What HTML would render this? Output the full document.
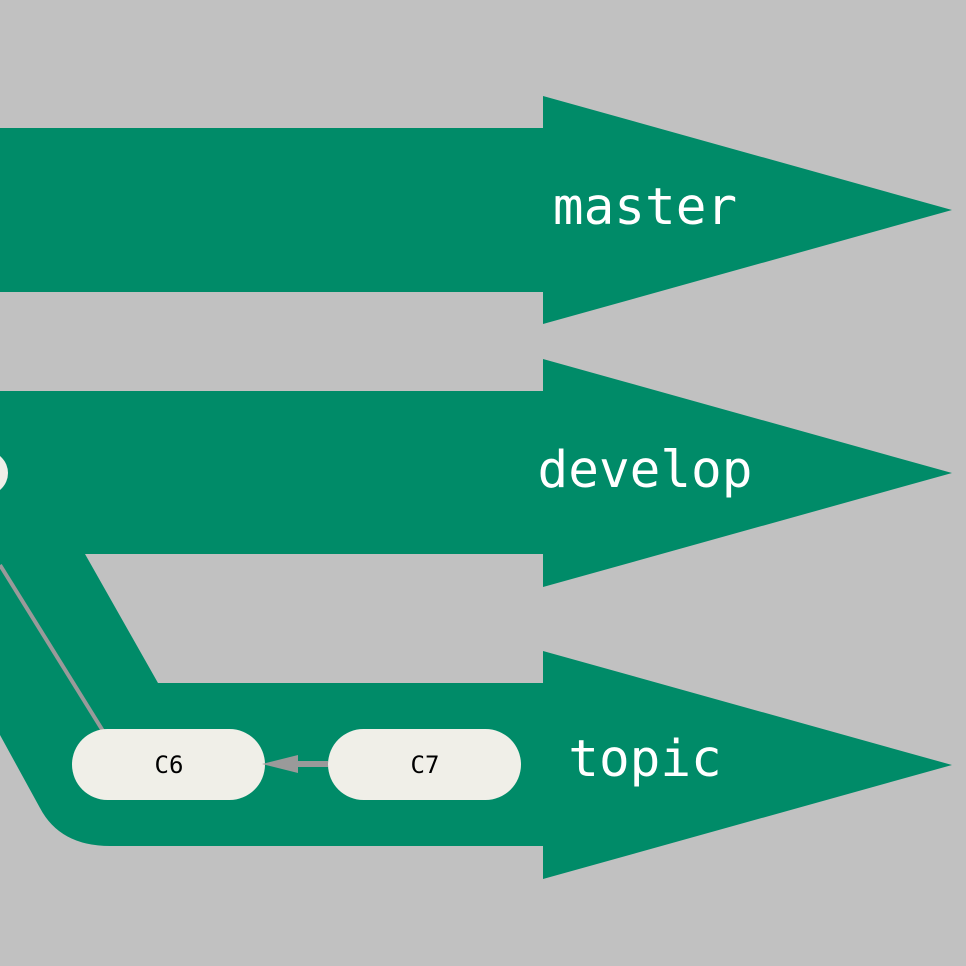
<!DOCTYPE html>
<html><head><style>
html,body{margin:0;padding:0;background:#c1c1c1;}
svg{display:block}
</style></head><body>
<svg width="966" height="966" viewBox="0 0 966 966" xmlns="http://www.w3.org/2000/svg">
<rect width="966" height="966" fill="#c1c1c1"/>
<g fill="#008b68">
<polygon points="0,128 543,128 543,96 952,210 543,324 543,292 0,292"/>
<polygon points="0,391 543,391 543,359 952,473 543,587 543,554 0,554"/>
<path d="M85,554 L158,683 L543,683 L543,651 L952,765 L543,879 L543,846 L110,846 Q60,846 40,808 L0,735 L0,554 Z"/>
</g>
<circle cx="-14" cy="473" r="22" fill="#f0efe8"/>
<line x1="0" y1="565" x2="103" y2="731" stroke="#9a9a9a" stroke-width="4"/>
<rect x="72" y="729" width="193" height="71" rx="35.5" fill="#f0efe8"/>
<rect x="328" y="729" width="193" height="71" rx="35.5" fill="#f0efe8"/>
<line x1="298" y1="764" x2="328" y2="764" stroke="#9a9a9a" stroke-width="6"/>
<polygon points="262,764 298,755 298,773" fill="#9a9a9a"/>
<g font-family="'DejaVu Sans Mono','Liberation Mono',monospace" fill="#000" font-size="24" text-anchor="middle">
<text x="169" y="773">C6</text>
<text x="425" y="773">C7</text>
</g>
<g font-family="'DejaVu Sans Mono','Liberation Mono',monospace" fill="#ffffff" font-size="51" text-anchor="middle">
<text x="645" y="224">master</text>
<text x="645" y="487">develop</text>
<text x="645" y="776">topic</text>
</g>
</svg>
</body></html>
